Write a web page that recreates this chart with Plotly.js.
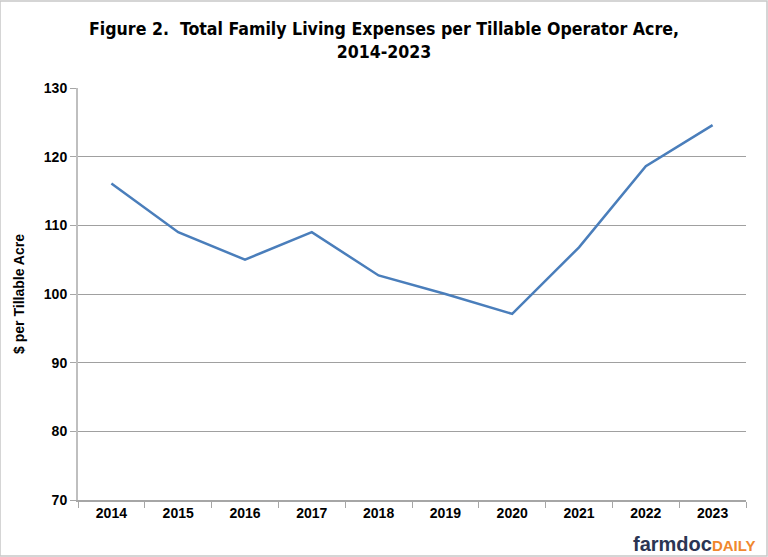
<!DOCTYPE html>
<html><head><meta charset="utf-8">
<script src="https://cdn.plot.ly/plotly-3.0.1.min.js"></script>
<style>html,body{margin:0;padding:0;background:#fff}#chart{width:768px;height:557px}</style>
</head><body><div id="chart"></div>
<script>
const years = ['2014','2015','2016','2017','2018','2019','2020','2021','2022','2023'];
const expensePerAcre = [116.1, 109.0, 105.0, 109.0, 102.7, 100.0, 97.1, 106.8, 118.6, 124.6];
const yTicks = [70, 80, 90, 100, 110, 120, 130];

const trace = {
  x: years, y: expensePerAcre, type: 'scatter', mode: 'lines',
  line: {color: '#4a7ebb', width: 2.5}, hoverinfo: 'skip'
};
const layout = {
  width: 768, height: 557,
  margin: {l: 78, r: 22, t: 88, b: 57},
  paper_bgcolor: '#fff', plot_bgcolor: '#fff',
  showlegend: false,
  font: {family: 'Liberation Sans, Arial, sans-serif', color: '#000'},
  title: {
    text: '<b>Figure 2.  Total Family Living Expenses per Tillable Operator Acre,<br>2014-2023</b>',
    font: {family: '"DejaVu Sans Condensed", sans-serif', size: 17.6, color: '#000'},
    x: 0.5, xanchor: 'center', y: 0.937, yanchor: 'top'
  },
  xaxis: {
    type: 'category', range: [-0.5, 9.5],
    showgrid: false, showline: true, linecolor: '#a6a6a6', linewidth: 1.5,
    ticks: 'outside', ticklen: 6, tickcolor: '#a6a6a6', tickson: 'boundaries',
    tickfont: {size: 14, family: 'Liberation Sans, Arial, sans-serif', weight: 'bold'},
    zeroline: false, fixedrange: true
  },
  yaxis: {
    range: [70, 130], tickvals: yTicks, ticktext: yTicks.map(v => '<b>' + v + '</b>'),
    showgrid: true, gridcolor: '#a0a0a0', gridwidth: 1,
    showline: true, linecolor: '#bfbfbf', linewidth: 2,
    ticks: 'outside', ticklen: 6, tickcolor: '#a6a6a6',
    tickfont: {size: 14}, zeroline: false, fixedrange: true,
    title: {text: '<b>$ per Tillable Acre</b>', font: {size: 14}, standoff: 16}
  },
  shapes: [{type: 'rect', xref: 'paper', yref: 'paper', x0: -78/668, x1: 1 + 21/668, y0: -56/412, y1: 1 + 87/412,
    line: {color: '#c8c8c8', width: 1.5}, fillcolor: 'rgba(0,0,0,0)'}],
  annotations: [{
    xref: 'paper', yref: 'paper', x: 1 + 12/668, y: -44/412, xanchor: 'right', yanchor: 'middle',
    text: '<b><span style="color:#2b3553">farmdoc</span><span style="color:#f0882e;font-size:15px">DAILY</span></b>',
    showarrow: false, font: {size: 20, family: 'Liberation Sans, Arial, sans-serif'}
  }]
};
Plotly.newPlot('chart', [trace], layout, {displayModeBar: false, staticPlot: true});
</script></body></html>
